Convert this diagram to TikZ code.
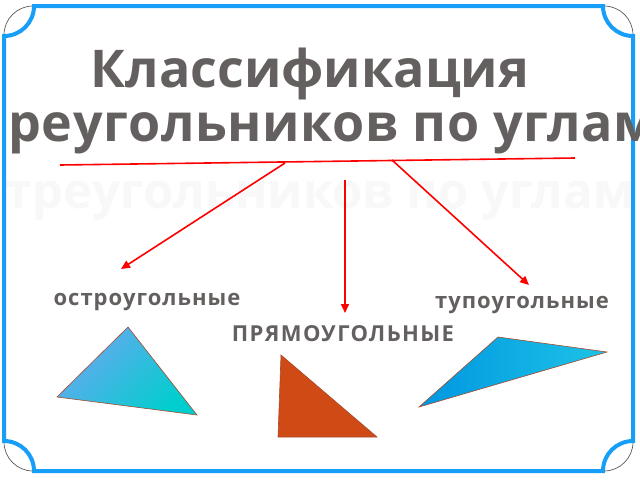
\documentclass[tikz,border=0pt]{standalone}
\usepackage{fontspec}
\setmainfont{Open Sans}
\usetikzlibrary{arrows.meta}
\definecolor{framebl}{RGB}{22,158,248}
\definecolor{txtgray}{RGB}{100,96,96}
\definecolor{ghost}{RGB}{248,248,248}
\definecolor{triedge}{RGB}{165,75,45}
\definecolor{acuteA}{RGB}{105,168,240}
\definecolor{acuteB}{RGB}{0,206,206}
\definecolor{rightF}{RGB}{208,74,22}
\definecolor{obtA}{RGB}{0,150,225}
\definecolor{obtB}{RGB}{30,195,230}
\begin{document}
\begin{tikzpicture}[x=1pt,y=-1pt,
  title/.style={text=txtgray,font=\fontsize{52}{55}\selectfont\bfseries,inner sep=0pt,anchor=base},
  lbl/.style={text=txtgray,font=\fontsize{22}{24}\selectfont\bfseries\addfontfeature{LetterSpace=4.5},inner sep=0pt,anchor=base},
  redarrow/.style={draw=red,line width=1.6pt,-{Triangle[length=9pt,width=8pt]}},
  tri/.style={draw=triedge,line width=0.6pt}]
\useasboundingbox (0,0) rectangle (640,480);
\fill[white] (0,0) rectangle (640,480);
\begin{scope}
\clip (0,0) rectangle (640,480);
% frame
\def\L{4}\def\R{633}\def\T{6}\def\B{471}
\draw[gray!70!black,line width=0.7pt]
  (\L,\T+29) .. controls (\L,\T+13) and (\L+13,\T) .. (\L+29,\T)
  (\R-29,\T) .. controls (\R-13,\T) and (\R,\T+13) .. (\R,\T+29)
  (\R,\B-29) .. controls (\R,\B-13) and (\R-13,\B) .. (\R-29,\B)
  (\L+29,\B) .. controls (\L+13,\B) and (\L,\B-13) .. (\L,\B-29);
% ghost text
\node[title,text=ghost,font=\fontsize{49}{52}\selectfont\bfseries] (ghost) at (320,208) {треугольников по углам};
\draw[framebl,line width=4pt]
  (\L+30,\T) -- (\R-30,\T)
  .. controls (\R-30,\T+16.6) and (\R-16.6,\T+30) .. (\R,\T+30)
  -- (\R,\B-30)
  .. controls (\R-16.6,\B-30) and (\R-30,\B-16.6) .. (\R-30,\B)
  -- (\L+30,\B)
  .. controls (\L+30,\B-16.6) and (\L+16.6,\B-30) .. (\L,\B-30)
  -- (\L,\T+30)
  .. controls (\L+16.6,\T+30) and (\L+30,\T+16.6) .. cycle;
% title
\node[title] (t1) at (310,87) {Классификация};
\node[title,anchor=base west,font=\fontsize{52}{55}\selectfont\bfseries\addfontfeature{LetterSpace=1.2}] (t2) at (8,141) {реугольников по углам};
\node[title,anchor=base east,font=\fontsize{52}{55}\selectfont\bfseries\addfontfeature{LetterSpace=1.2}] (t2a) at ([xshift=-12pt]t2.base west) {т};
\end{scope}
% red line and arrows
\coordinate (la) at (60,165);
\coordinate (lb) at (575,158);
\draw[red,line width=1.6pt] (la) -- (lb);
\coordinate (s1) at (285,163);
\coordinate (e1) at (121,269);
\coordinate (s2) at (345,180);
\coordinate (e2) at (345,313);
\coordinate (s3) at (392,160);
\coordinate (e3) at (529,285);
\draw[redarrow] (s1) -- (e1);
\draw[redarrow] (s2) -- (e2);
\draw[redarrow] (s3) -- (e3);
% labels
\node[lbl] (acute) at (147,305) {остроугольные};
\node[lbl] (obtuse) at (522,308) {тупоугольные};
\node[lbl,font=\fontsize{22}{24}\selectfont\bfseries\addfontfeature{LetterSpace=6.3}] (right) at (343,341) {ПРЯМОУГОЛЬНЫЕ};
% triangles
\shade[tri,top color=acuteA,bottom color=acuteB,shading angle=45] (128,327) -- (57,397) -- (197,415) -- cycle;
\fill[rightF] (281,355) -- (278,437) -- (377,437) -- cycle;
\draw[tri] (281,355) -- (278,437) -- (377,437) -- cycle;
\shade[tri,left color=obtA,right color=obtB] (498,337) -- (607,352) -- (419,407) -- cycle;
\end{tikzpicture}
\end{document}
